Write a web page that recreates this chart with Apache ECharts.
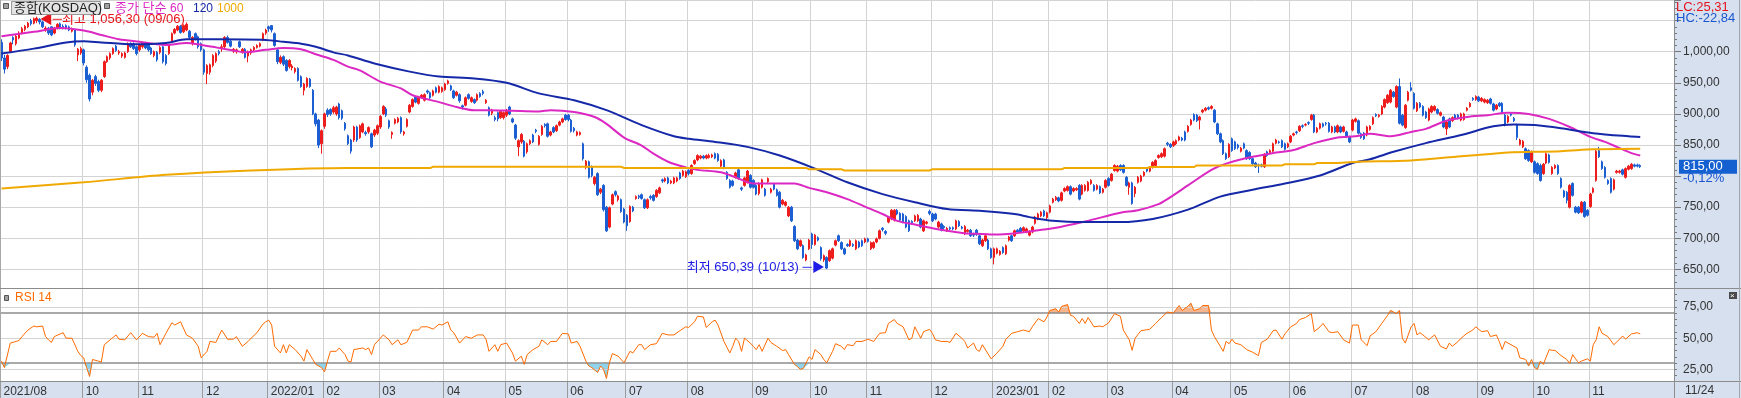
<!DOCTYPE html>
<html>
<head>
<meta charset="utf-8">
<script src="https://cdn.jsdelivr.net/npm/echarts/dist/echarts.min.js"></script>
<style>
  html, body { margin: 0; padding: 0; background: #d6e0ef; }
  #chart { width: 1741px; height: 398px; }
</style>
</head>
<body>
<div id="chart"></div>
<script>
// 종합(KOSDAQ) 일봉 2021/08/19 ~ 2023/11/24 (거래일 순서)
const opens = [
  1015,990,976,1000,1023,1013,1022,1030,1036,
  1040,1050,1046,1050,1052,1048,1035,1038,1040,1030,1038,1045,1041,1042,1040,1033,1035,995,998,
  1003,975,962,935,960,952,938,960,984,990,997,1009,998,993,991,1000,1013,1013,1008,
  1003,1008,1014,1012,1006,994,999,999,1008,994,997,1016,1030,1035,1041,1032,1035,1033,1013,1029,1024,1013,
  1003,965,967,978,985,1000,1005,1008,1023,1017,1001,1000,1016,1000,1004,993,998,1003,1007,1009,1019,1030,
  1040,1042,1029,1003,983,992,986,976,974,968,973,960,938,944,956,938,900,890,852,
  880,906,907,903,900,916,905,885,865,858,858,879,862,871,870,871,868,866,869,
  879,900,908,889,867,885,887,894,868,880,903,912,927,917,927,922,937,934,930,942,935,936,
  939,949,945,937,930,931,913,914,931,920,923,922,933,936,918,910,901,894,902,894,894,
  898,911,892,882,847,855,856,839,852,866,874,851,867,883,884,866,878,873,882,887,898,
  898,890,877,866,867,852,814,823,815,788,804,774,785,750,718,755,775,762,762,747,
  737,727,750,764,768,770,762,749,767,769,767,773,794,792,797,789,789,792,805,801,799,
  809,804,820,826,829,832,829,830,831,836,835,816,826,806,793,792,798,810,781,785,790,801,
  793,785,772,782,779,791,774,787,778,774,755,753,736,750,719,697,688,688,665,683,
  707,690,701,685,665,669,664,668,689,704,693,683,690,688,690,683,694,696,694,
  699,683,685,694,700,716,711,726,731,729,745,740,739,735,728,727,728,728,731,712,724,743,
  739,739,718,723,719,712,717,717,715,727,718,707,711,713,707,713,704,688,696,697,683,
  669,676,674,685,675,697,704,704,713,716,712,710,705,710,724,731,736,744,733,
  742,758,762,765,761,776,777,783,776,778,785,771,777,777,788,785,779,783,774,782,
  796,793,809,808,817,817,798,782,789,772,790,792,801,812,808,814,817,830,831,832,853,851,
  849,852,858,861,871,872,883,899,898,890,903,906,910,909,906,884,868,857,836,831,
  860,855,850,840,852,841,838,828,821,818,818,815,839,838,840,853,855,857,852,847,
  855,866,871,873,881,882,886,891,898,871,877,884,885,885,871,879,871,879,872,871,863,
  874,888,889,868,869,866,875,884,899,896,900,911,918,919,935,911,944,898,878,922,942,
  933,905,917,912,903,890,903,906,907,898,895,876,892,889,898,898,890,891,906,912,925,923,
  927,921,919,918,924,916,908,917,917,898,887,900,893,882,851,847,844,841,823,
  823,820,817,804,821,834,804,813,817,796,776,774,750,788,750,750,742,758,745,
  751,774,793,841,823,814,793,796,779,806,806,810,798,811,812,818,818,817
];
const closes = [
  990,972,994,1014,1019,1025,1030,1037,1041,
  1046,1045,1053,1054,1048,1040,1038,1030,1027,1038,1044,1038,1039,1038,1035,1037,1011,1004,1005,
  982,955,924,954,949,938,954,984,992,997,1005,1002,1000,997,998,1013,1008,1005,997,
  1011,1014,1006,1003,997,1000,987,1007,984,981,1010,1029,1036,1041,1031,1042,1044,1023,1023,1021,1008,1003,
  967,978,979,994,997,997,1008,1023,1015,1009,1004,1003,1008,1004,991,1000,1003,1007,1010,1013,1029,1035,
  1037,1035,1010,984,991,980,970,986,977,973,954,944,948,957,944,900,884,850,873,
  900,899,900,910,911,894,893,876,852,840,879,858,881,884,868,878,847,874,881,
  896,912,898,879,870,891,893,871,871,891,914,923,919,927,930,931,935,926,937,935,944,942,
  948,953,939,926,935,921,911,926,925,926,918,931,928,933,922,898,906,891,892,904,902,
  906,900,887,861,857,867,832,852,857,855,872,864,880,881,864,871,871,881,887,892,891,
  891,872,873,871,870,828,824,798,801,798,770,779,746,712,749,770,770,768,743,726,
  720,751,744,767,766,764,749,762,765,761,777,781,792,796,789,792,797,797,796,808,807,
  804,817,825,833,832,829,833,833,834,829,825,825,813,796,782,785,805,796,779,797,808,782,
  782,771,788,794,769,796,779,779,769,750,761,758,750,728,696,683,696,669,673,697,
  690,705,697,667,672,652,680,683,696,696,683,675,688,696,688,696,686,688,699,
  695,693,693,699,712,714,708,734,745,745,739,729,726,718,712,725,736,737,718,728,726,740,
  728,731,726,713,717,716,715,715,728,720,716,719,713,704,705,706,691,697,704,683,669,
  683,683,679,677,688,702,696,712,710,710,717,715,711,718,734,739,742,736,741,
  752,763,766,760,773,780,783,771,780,780,763,785,785,790,793,777,785,773,779,793,
  785,803,817,816,810,806,785,789,756,782,798,800,806,808,814,822,825,833,836,844,851,847,
  855,857,863,858,858,880,890,890,889,895,906,909,908,912,887,868,855,836,828,851,
  841,844,846,845,845,828,828,820,815,817,816,835,833,841,852,858,854,847,843,852,
  864,868,870,880,880,883,885,898,871,877,884,880,884,872,879,871,881,871,879,864,855,
  890,892,869,862,860,879,880,894,897,898,912,923,930,938,928,944,885,882,914,935,938,
  909,917,911,898,894,908,912,912,901,902,879,887,879,894,893,893,900,900,909,917,923,928,
  921,925,923,922,917,906,914,913,903,882,896,898,889,862,858,856,828,825,839,
  806,804,793,819,836,822,814,817,804,782,767,761,785,769,742,741,758,735,737,
  771,780,840,831,812,798,788,774,794,808,808,803,812,816,819,816,816,815
];
const lows = [
  985,965,972,998,1012,1010,1020,1028,1033,
  1038,1042,1044,1046,1044,1038,1032,1027,1025,1028,1036,1036,1036,1036,1033,1031,1008,985,995,
  978,950,920,930,945,935,935,958,982,987,995,1000,995,990,989,998,1006,1003,994,
  1000,1005,1004,1000,995,991,984,996,981,978,995,1014,1028,1033,1029,1030,1033,1020,1010,1018,1005,1000,
  963,948,963,975,982,994,1000,1006,1013,1007,998,997,1006,997,989,983,995,1001,1005,1007,1017,1027,
  1032,1031,1008,980,980,977,968,973,970,965,952,942,930,942,942,898,880,845,836,
  876,895,897,900,897,891,890,873,850,836,855,855,860,869,865,868,845,863,866,
  876,898,895,876,860,883,885,868,865,878,901,910,917,915,925,920,932,924,928,933,933,934,
  937,947,937,924,928,918,907,912,923,918,916,920,926,930,916,896,898,888,888,892,891,
  895,898,885,858,832,852,830,836,850,853,869,849,865,878,862,864,869,871,880,885,889,
  888,870,870,864,865,825,811,796,798,785,768,771,743,710,716,753,767,759,741,724,
  712,725,742,762,763,762,747,747,762,759,765,771,789,790,787,787,787,790,794,799,797,
  801,802,818,824,827,827,827,828,829,827,823,814,811,794,780,783,796,794,776,783,788,780,
  780,769,769,780,767,789,772,777,767,748,753,751,734,726,694,681,686,667,663,681,
  683,688,695,664,662,650.39,662,666,687,694,681,673,686,686,686,681,684,686,692,
  693,681,683,692,698,711,705,724,729,727,737,727,724,716,710,722,726,726,716,710,722,737,
  726,729,716,711,714,710,713,713,713,718,714,705,709,702,702,704,689,686,694,681,667,
  658,674,672,675,673,695,694,702,708,708,710,708,703,708,722,729,734,734,731,
  740,756,760,758,759,774,775,769,774,776,761,769,775,775,786,775,777,771,772,780,
  783,791,807,806,808,804,783,770,754,766,788,790,799,806,806,812,815,828,829,830,848,845,
  847,850,856,856,856,870,881,888,887,875,901,904,906,907,885,866,853,834,826,829,
  839,842,843,838,843,826,826,818,813,805,814,813,831,836,838,851,852,845,841,845,
  853,864,867,871,877,880,882,889,869,869,875,878,881,870,869,869,869,869,870,861,853,
  872,886,867,860,858,864,873,882,895,894,898,909,916,917,926,909,883,880,876,920,936,
  907,903,909,896,892,888,901,904,899,896,877,866,877,887,891,891,888,889,904,910,921,921,
  919,919,917,916,915,904,906,911,901,880,885,896,887,858,849,845,826,823,821,
  804,802,791,802,819,820,802,811,802,780,765,756,748,767,740,739,740,733,735,
  749,772,791,829,810,796,786,772,777,804,804,801,796,809,810,814,814,813
];
const highs = [
  1020,995,996,1016,1025,1027,1033,1040,1043,
  1048,1053,1055,1056.3,1054,1050,1041,1040,1041,1040,1046,1047,1044,1044,1042,1039,1037,1006,1008,
  1005,978,965,956,963,955,956,986,994,999,1007,1011,1003,999,1000,1015,1015,1015,1010,
  1013,1016,1016,1014,1008,1002,1001,1009,1010,996,1012,1031,1038,1043,1043,1044,1047,1035,1025,1031,1026,1015,
  1005,980,981,996,999,1003,1012,1025,1026,1019,1006,1005,1018,1006,1006,1002,1005,1009,1012,1015,1031,1037,
  1042,1043,1031,1005,994,994,988,988,980,975,975,962,950,959,958,940,902,892,875,
  902,909,909,913,913,918,907,887,867,860,881,881,883,886,873,880,870,876,883,
  898,914,911,891,872,893,895,896,873,893,916,925,929,929,932,933,939,936,939,944,946,944,
  950,955,947,939,937,933,915,928,933,928,925,933,935,939,924,912,908,897,904,906,904,
  908,913,894,884,859,869,858,854,859,868,876,866,882,885,886,873,880,883,889,894,900,
  900,892,879,873,872,854,826,825,817,800,806,781,787,752,751,772,777,770,764,749,
  739,753,752,769,770,772,764,764,770,771,779,783,796,798,799,794,799,799,807,810,809,
  811,819,827,835,834,834,835,836,836,838,837,827,828,808,795,794,807,812,783,799,810,803,
  795,787,790,796,781,798,781,789,780,776,763,760,752,752,721,699,698,690,675,699,
  709,707,703,687,674,671,682,685,698,706,695,685,692,698,692,698,696,698,701,
  701,695,695,701,714,718,713,736,747,747,747,742,741,737,730,729,738,739,733,730,728,746,
  741,741,728,725,721,718,719,719,730,729,720,721,715,715,709,715,706,699,706,699,685,
  685,685,681,687,690,704,706,714,715,718,719,717,713,720,736,741,744,746,743,
  754,765,768,767,775,782,785,785,782,782,787,787,787,792,795,787,787,785,781,795,
  798,805,819,818,819,819,800,791,791,784,800,802,808,814,816,824,827,835,838,846,855,853,
  857,859,865,863,873,882,892,901,900,897,908,911,912,914,908,886,870,859,838,853,
  862,857,852,847,854,843,840,830,823,820,820,837,841,843,854,860,857,859,854,854,
  866,870,873,882,883,885,888,900,900,879,886,886,887,887,881,881,883,881,881,873,865,
  892,894,891,870,871,881,882,896,901,900,914,925,932,940,937,946,957,900,916,937,951,
  935,919,919,914,905,910,914,914,909,904,897,889,894,896,900,900,902,902,911,919,927,930,
  929,927,925,924,926,918,916,919,919,900,898,902,895,884,860,858,846,843,841,
  825,822,820,821,838,836,816,819,819,798,778,776,787,790,752,752,760,760,747,
  773,782,842,847,825,816,795,798,796,810,810,812,814,818,821,820,820,819
];

// 월 구분 (거래일 인덱스) 과 라벨
const monthIdx = [0, 28, 47, 69, 91, 110, 129, 151, 172, 193, 213, 234, 256, 276, 295, 317,
                  338, 357, 377, 399, 419, 439, 460, 481, 503, 522, 541];
const monthLabels = ['2021/08', '10', '11', '12', '2022/01', '02', '03', '04', '05', '06', '07', '08', '09', '10', '11', '12',
                     '2023/01', '02', '03', '04', '05', '06', '07', '08', '09', '10', '11'];

// 종가 단순 이동평균 [인덱스, 값]
const ma60 = [[0,1025],[11,1032],[20,1038],[28,1034],[34,1027],[40,1020],[47,1016],[56,1011],[63,1014],[68,1011],
  [73,1007],[79,1002],[83,999],[90,1003],[96,1006],[102,1004],[107,996],[113,987],[118,976],[122,970],[129,952],
  [136,941],[140,930],[149,919],[155,911],[161,906],[166,906],[174,905],[183,904],[187,906],[195,903],[202,895],
  [206,884],[212,862],[218,849],[222,836],[227,823],[233,814],[237,810],[245,806],[250,798],[256,788],[265,788],
  [270,788],[275,781],[281,774],[288,763],[294,751],[300,739],[305,728],[311,722],[317,716],[322,712],[328,708],
  [334,707],[339,706],[345,708],[350,711],[358,716],[369,727],[381,741],[387,745],[394,755],[397,763],[404,785],
  [412,810],[417,820],[426,831],[433,837],[440,842],[447,853],[455,862],[461,864],[466,868],[473,864],[480,871],
  [485,876],[492,889],[499,895],[506,898],[513,902],[520,900],[527,892],[534,879],[541,863],[546,855],[550,847],
  [555,837],[558,833]];
const ma120 = [[0,997],[11,1005],[22,1015],[28,1017],[34,1015],[45,1012],[56,1014],[63,1020],[73,1020],[90,1019],
  [96,1016],[102,1013],[107,1008],[113,999],[118,994],[127,981],[139,968],[149,960],[161,957],[172,950],[183,933],
  [195,922],[206,906],[218,882],[229,864],[234,860],[243,855],[254,847],[265,833],[277,812],[288,790],[300,771],
  [311,758],[322,747],[334,744],[345,739],[350,734],[358,728],[369,726],[381,726],[392,731],[404,746],[415,767],
  [426,778],[437,788],[449,801],[460,821],[466,827],[474,839],[485,853],[497,866],[508,880],[515,883],[522,882],
  [531,877],[542,869],[554,864],[558,863]];
const ma1000 = [[0,780],[28,790],[56,802],[85,809],[118,813],[146,813],[147,815],[211,815],[212,813],[274,813],
  [275,811],[286,811],[287,809],[316,809],[317,811],[361,811],[362,813],[390,813],[391,814.5],[406,814.5],
  [407,817],[436,817],[437,819],[447,819],[448,821],[455,821],[462,823],[480,825],[497,832],[508,836],
  [513,838],[531,840],[542,843],[558,844]];

// RSI 14 [인덱스, 값]
const rsi14 = [[0,31.7],[1,26.5],[3,46.1],[5,47.4],[6,48.2],[7,51.3],[9,56.5],[11,59.7],[12,59.1],[14,59.7],
  [15,51.3],[16,48.7],[17,46.6],[18,51.3],[20,53.4],[21,54.4],[22,50],[24,50],[26,39.5],[27,36.1],[28,34.3],
  [29,26.5],[30,19.4],[31,33],[33,31.7],[34,30.9],[35,44.8],[37,48.7],[39,52.6],[40,49.2],[42,48.7],[44,54.4],
  [46,48.7],[48,53.9],[50,51.3],[52,50.8],[53,53.9],[54,44.8],[56,53.9],[58,62.3],[59,60.5],[61,63.1],[63,52.6],
  [65,50],[67,43.5],[68,34.3],[70,39.5],[71,47.4],[73,46.6],[75,56.5],[77,49.2],[79,49.2],[80,51.3],[82,43.5],
  [84,47.4],[85,50],[87,54.4],[89,61.2],[90,63.1],[91,64.4],[92,60.5],[93,43.5],[95,38.2],[96,44.8],[97,38.2],
  [98,44.8],[100,40.9],[102,35.6],[103,31.7],[104,40.9],[106,33],[107,29.1],[109,26.5],[110,23.1],[111,31.7],
  [112,39.5],[114,39.5],[115,42.2],[117,36.9],[118,31.7],[119,30.9],[120,40.9],[123,42.2],[124,40.9],[125,42.2],
  [126,36.9],[127,44.8],[130,52.6],[132,48.7],[133,44.8],[135,48.7],[136,44.8],[138,46.6],[140,56.5],[142,56.5],
  [143,59.1],[145,59.1],[147,57.3],[149,61.2],[150,60.5],[152,63.1],[153,56.5],[154,54.4],[156,46.1],[158,51.3],
  [160,50],[162,52.6],[164,52.6],[165,49.2],[166,39.5],[168,44.8],[169,39.5],[170,44.8],[172,46.1],[174,38.2],
  [175,31.7],[177,35.6],[178,29.1],[179,36.9],[181,40.9],[183,43.5],[184,48.7],[186,44.8],[187,47.4],[189,47.4],
  [191,53.9],[193,53.4],[194,46.1],[196,47.4],[197,43.5],[199,31.7],[200,27.8],[201,26.5],[203,22.6],[204,27.8],
  [205,25.2],[206,17.8],[207,30.4],[208,37.7],[210,35.6],[212,30.4],[214,39.5],[215,38.2],[217,44.8],[218,44.8],
  [219,40.9],[221,44.8],[223,45.6],[225,53.9],[227,52.6],[228,52.6],[229,52.6],[231,56],[233,59.1],[234,58.6],
  [236,63.1],[237,67.5],[239,67],[240,58.6],[242,63.1],[243,64.4],[244,60.5],[246,47.4],[248,38.2],[249,43.5],
  [250,50],[251,47.4],[252,39.5],[253,50],[255,46.1],[256,43.5],[257,40.9],[258,44.8],[259,39.5],[261,50],
  [262,46.6],[264,43.5],[266,40.1],[267,40.9],[268,36.9],[270,29.1],[271,27.3],[272,25.2],[273,25.7],[275,35.1],
  [276,33],[277,40.9],[279,36.9],[280,33],[281,30.4],[283,39.5],[284,45.6],[286,43.5],[287,40.9],[288,44.8],
  [290,44],[291,47.4],[293,47.4],[295,49.2],[297,47.4],[299,53.9],[301,54.4],[302,61.8],[304,64.9],[305,61.8],
  [307,59.1],[309,48.7],[310,50],[311,59.1],[313,50],[314,55.2],[316,57.1],[317,53.9],[318,48.7],[320,47.4],
  [322,47.4],[323,46.6],[325,53.9],[327,50],[328,47.4],[329,42.2],[331,46.1],[332,40.9],[333,39.5],[334,44.8],
  [337,33.5],[339,38.2],[341,43.5],[342,49.2],[344,53.9],[346,55.2],[348,56.5],[350,55.2],[351,59.1],[353,65.7],
  [355,63.1],[356,67],[357,72.2],[359,73.5],[360,70.9],[361,75.4],[363,76.9],[364,68.3],[365,67.5],[367,61.8],
  [368,65.7],[369,61.8],[370,66.5],[372,59.1],[374,59.7],[375,59.1],[377,62.3],[379,69.6],[381,67.5],[382,56.5],
  [384,48.7],[385,40.3],[386,50],[388,56],[391,57.1],[393,61.8],[395,66.5],[397,70.9],[399,70.1],[401,76.1],
  [402,72.2],[404,75.4],[405,78],[406,72.2],[408,73.5],[409,76.1],[411,76.1],[412,56.5],[413,51.3],[415,43.5],
  [416,39.5],[417,47.4],[418,45.6],[419,49.2],[420,46.1],[422,44.8],[424,40.9],[426,38.8],[428,36.1],[429,46.6],
  [431,49.2],[433,56],[434,56.5],[436,49.2],[437,53.4],[439,59.1],[441,61.8],[442,64.9],[444,66.5],[446,69.6],
  [447,55.2],[449,59.1],[450,61.8],[452,55.2],[453,54.4],[455,55.2],[457,48.7],[459,46.1],[460,60.5],[462,60.5],
  [463,48.7],[465,44],[466,51.8],[468,55.2],[470,61.8],[472,68.3],[473,72.2],[474,70.9],[475,69.6],[476,72.2],
  [477,50],[478,46.1],[480,59.1],[481,61.8],[482,52.6],[483,54.4],[484,52.6],[486,48.7],[487,50.8],[488,52.6],
  [490,43.5],[492,41.4],[493,46.1],[494,43.5],[496,47.4],[497,50],[499,53.9],[501,56.5],[502,59.1],[504,55.2],
  [506,56],[507,51.3],[509,52.6],[510,47.4],[511,40.9],[512,47.4],[514,44.8],[516,42.2],[517,34.3],[519,33],
  [520,27.8],[521,33],[522,26.5],[523,25.2],[524,31.7],[525,29.1],[527,40.9],[528,40.3],[529,40.3],[530,38.2],
  [531,36.1],[533,33],[534,29.9],[535,36.9],[536,33.5],[537,30.4],[538,31.7],[540,33.5],[541,31.7],[542,44.8],
  [543,48.7],[544,59.1],[545,53.9],[547,51.3],[549,44.8],[551,49.2],[552,51.8],[553,49.2],[555,53.4],[557,54.4],
  [558,53.4]];

const slots = 570;          // 오른쪽 빈칸 포함
const lastChange = -0.12;   // 전일 대비 %
const highMark = { idx: 12, date: '09/06' };
const lowMark = { idx: 281, date: '10/13' };

const FONT = "'Liberation Sans', 'Noto Sans CJK KR', sans-serif";
const UP = '#ee1d1d', DOWN = '#1c5fd3';
const GRID_C = '#d3d3d3', DARK_C = '#8c8c8c';

function num(v) {
  const p = Math.abs(v).toFixed(2).split('.');
  return (v < 0 ? '-' : '') + p[0].replace(/\B(?=(\d{3})+(?!\d))/g, ',') + ',' + p[1];
}

const candles = closes.map((c, i) => [opens[i], c, lows[i], highs[i]]);
const cats = [];
for (let i = 0; i < slots; i++) cats.push(String(i));
const monthAt = {};
monthIdx.forEach((d, k) => { monthAt[d] = monthLabels[k]; });
const isMonth = (i) => monthAt[i] !== undefined;

const lastClose = closes[closes.length - 1];
const hiVal = highs[highMark.idx];
const loVal = lows[lowMark.idx];
const lc = (lastClose / loVal - 1) * 100;
const hc = (lastClose / hiVal - 1) * 100;

const rsiLow = rsi14.map(([i, v]) => [i, Math.min(v, 30)]);
const rsiHigh = rsi14.map(([i, v]) => [i, Math.max(v, 70)]);

const chart = echarts.init(document.getElementById('chart'));

const txt = (text, x, y, color, size) => ({
  type: 'text', x: x, y: y, z: 100,
  style: { text: text, fill: color, font: (size || 13) + 'px ' + FONT, verticalAlign: 'middle' }
});
const line = (x1, y1, x2, y2, color) => ({
  type: 'line', z: 90, shape: { x1: x1, y1: y1, x2: x2, y2: y2 }, style: { stroke: color, lineWidth: 1 }
});

const maLine = (name, data, color) => ({
  name: name, type: 'line', xAxisIndex: 0, yAxisIndex: 0, data: data,
  showSymbol: false, smooth: 0.3, silent: true,
  lineStyle: { color: color, width: 2 }, z: 4
});

chart.setOption({
  animation: false,
  grid: [
    { left: 0, right: 67, top: 0, height: 288, show: true, backgroundColor: '#ffffff', borderWidth: 0 },
    { left: 0, right: 67, top: 288, height: 94, show: true, backgroundColor: '#ffffff', borderWidth: 0 }
  ],
  xAxis: [
    {
      type: 'category', gridIndex: 0, data: cats, boundaryGap: true,
      axisLine: { show: false }, axisTick: { show: false }, axisLabel: { show: false },
      splitLine: { show: true, interval: isMonth, lineStyle: { color: GRID_C, width: 1 } }
    },
    {
      type: 'category', gridIndex: 1, data: cats, boundaryGap: true,
      axisLine: { show: false },
      axisTick: { show: true, interval: isMonth, length: 16, lineStyle: { color: '#9a9a9a' } },
      axisLabel: {
        show: true, interval: isMonth, align: 'left', margin: 4, padding: [0, 0, 0, 2],
        color: '#333', fontSize: 12, fontFamily: FONT,
        formatter: (v) => monthAt[Number(v)] || ''
      },
      splitLine: { show: true, interval: isMonth, lineStyle: { color: GRID_C, width: 1 } }
    }
  ],
  yAxis: [
    {
      type: 'value', gridIndex: 0, position: 'right', min: 620, max: 1083.2, interval: 10,
      axisLine: { show: true, lineStyle: { color: DARK_C } },
      axisTick: { show: true, length: 3, lineStyle: { color: '#777' } },
      axisLabel: {
        color: '#333', fontSize: 12, fontFamily: FONT, margin: 9,
        showMinLabel: false, showMaxLabel: false,
        formatter: (v) => {
          const r = Math.round(v);
          // 현재가 표시와 겹치는 눈금값은 숨김
          if (Math.abs(r - lastClose) < 25) return '';
          return (r % 50 === 0 && r >= 650 && r <= 1000) ? num(r) : '';
        }
      },
      splitLine: { show: false }
    },
    {
      type: 'value', gridIndex: 0, position: 'right', min: 620, max: 1083.2, splitNumber: 9,
      axisLine: { show: false },
      axisTick: { show: true, length: 7, lineStyle: { color: '#777' } },
      axisLabel: { show: false },
      splitLine: { show: true, lineStyle: { color: GRID_C, width: 1 } }
    },
    {
      type: 'value', gridIndex: 1, position: 'right', min: 15, max: 90.1, interval: 5,
      axisLine: { show: true, lineStyle: { color: DARK_C } },
      axisTick: { show: true, length: 3, lineStyle: { color: '#777' } },
      axisLabel: {
        color: '#333', fontSize: 12, fontFamily: FONT, margin: 9,
        showMinLabel: false, showMaxLabel: false,
        formatter: (v) => {
          const r = Math.round(v);
          return (r === 25 || r === 50 || r === 75) ? num(r) : '';
        }
      },
      splitLine: { show: false }
    }
  ],
  series: [
    {
      name: 'KOSDAQ', type: 'candlestick', xAxisIndex: 0, yAxisIndex: 0, data: candles,
      barWidth: 2, silent: true, z: 3,
      itemStyle: { color: UP, color0: DOWN, borderColor: UP, borderColor0: DOWN, borderWidth: 1 },
      markPoint: {
        silent: true, symbol: 'circle', symbolSize: 0,
        data: [
          {
            coord: [highMark.idx, hiVal],
            label: {
              show: true, position: 'right', distance: 3, offset: [0, 3],
              color: '#e8141c', fontSize: 13, fontFamily: FONT,
              formatter: '◀─최고 ' + num(hiVal) + ' (' + highMark.date + ')'
            }
          },
          {
            coord: [lowMark.idx, loVal],
            label: {
              show: true, position: 'left', distance: 2, offset: [0, -2],
              color: '#1c1ce6', fontSize: 13, fontFamily: FONT,
              formatter: '최저 ' + num(loVal) + ' (' + lowMark.date + ') ─▶'
            }
          }
        ]
      }
    },
    maLine('60', ma60, '#dc28c3'),
    maLine('120', ma120, '#1428a8'),
    maLine('1000', ma1000, '#f0a900'),
    {
      name: 'oversold', type: 'line', xAxisIndex: 1, yAxisIndex: 2, data: rsiLow,
      showSymbol: false, silent: true, z: 1,
      lineStyle: { width: 0, opacity: 0 },
      areaStyle: { color: '#8fd4ec', opacity: 1, origin: 30 },
      markLine: {
        silent: true, symbol: ['none', 'none'], label: { show: false },
        data: [
          { yAxis: 75, lineStyle: { color: GRID_C, type: 'solid', width: 1 } },
          { yAxis: 50, lineStyle: { color: GRID_C, type: 'solid', width: 1 } },
          { yAxis: 25, lineStyle: { color: GRID_C, type: 'solid', width: 1 } },
          { yAxis: 70, lineStyle: { color: DARK_C, type: 'solid', width: 1.5 } },
          { yAxis: 30, lineStyle: { color: DARK_C, type: 'solid', width: 1.5 } }
        ]
      }
    },
    {
      name: 'overbought', type: 'line', xAxisIndex: 1, yAxisIndex: 2, data: rsiHigh,
      showSymbol: false, silent: true, z: 1,
      lineStyle: { width: 0, opacity: 0 },
      areaStyle: { color: '#f6b58c', opacity: 1, origin: 70 }
    },
    {
      name: 'RSI 14', type: 'line', xAxisIndex: 1, yAxisIndex: 2, data: rsi14,
      showSymbol: false, silent: true, z: 5,
      lineStyle: { color: '#ff6a00', width: 1 }
    }
  ]
});

// 현재가 표시 위치는 가격축에서 계산
const tagY = chart.convertToPixel({ yAxisIndex: 0 }, lastClose);

chart.setOption({
  graphic: [
    line(0.5, 0, 0.5, 382, '#a8a8a8'),
    line(0, 288.5, 1741, 288.5, DARK_C),
    line(0, 381.5, 1741, 381.5, DARK_C),
    line(1674.5, 0, 1674.5, 398, DARK_C),
    line(1739.5, 0, 1739.5, 398, '#a8a8a8'),
    // 범례
    { type: 'rect', z: 100, shape: { x: 3.5, y: 3.5, width: 5, height: 5 }, style: { fill: '#a0a0a0', stroke: '#555' } },
    { type: 'rect', z: 100, shape: { x: 11.5, y: 1.5, width: 89, height: 13 }, style: { fill: '#e4e4e4', stroke: '#999' } },
    txt('종합(KOSDAQ)', 14, 8.5, '#222'),
    { type: 'rect', z: 100, shape: { x: 104.5, y: 3.5, width: 5, height: 5 }, style: { fill: '#a0a0a0', stroke: '#555' } },
    txt('종가 단순', 115, 8.5, '#dc28c3'),
    txt('60', 170, 8.5, '#dc28c3', 12),
    txt('120', 193, 8.5, '#1428a8', 12),
    txt('1000', 217, 8.5, '#f0a900', 12),
    // RSI 제목
    { type: 'rect', z: 100, shape: { x: 4.5, y: 295.5, width: 4, height: 5 }, style: { fill: '#a0a0a0', stroke: '#555' } },
    txt('RSI 14', 15, 298, '#ff6a00', 12),
    // 오른쪽 축 정보
    txt('LC:' + num(lc), 1676, 7, '#e8141c'),
    txt('HC:' + num(hc), 1676, 18, '#1a56d0'),
    { type: 'rect', z: 100, shape: { x: 1679, y: tagY - 7, width: 58, height: 14 }, style: { fill: '#1560d0' } },
    txt(num(lastClose), 1683, tagY, '#ffffff'),
    txt(num(lastChange) + '%', 1683, tagY + 12, '#1a56d0'),
    { type: 'rect', z: 100, shape: { x: 1729, y: 292, width: 8, height: 7 }, style: { fill: '#4a4a4a' } },
    txt('×', 1730, 295.5, '#ffffff', 8),
    txt('11/24', 1685, 390.5, '#333', 12)
  ]
});
</script>
</body>
</html>
